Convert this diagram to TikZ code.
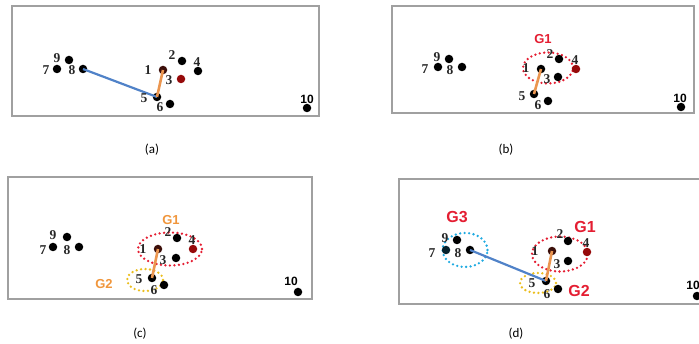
\documentclass[tikz,border=0pt]{standalone}
\usepackage{fontspec}
\setmainfont{Liberation Serif}
\setsansfont{Liberation Sans}
\newfontfamily\capfont{Carlito}
\usetikzlibrary{shapes.geometric}
\definecolor{frameg}{RGB}{160,160,160}
\definecolor{lblue}{RGB}{80,130,200}
\definecolor{lorange}{RGB}{235,150,80}
\definecolor{gred}{RGB}{228,30,50}
\definecolor{gyellow}{RGB}{235,190,30}
\definecolor{gcyan}{RGB}{30,170,225}
\definecolor{gorange}{RGB}{240,150,60}
\definecolor{dbrown}{RGB}{60,15,10}
\definecolor{dred}{RGB}{150,10,10}
\tikzset{
  panel/.style={draw=frameg, line width=1.8pt},
  dot/.style={circle, fill=black, inner sep=0pt, minimum size=8.5pt},
  num/.style={font=\fontsize{13.5}{13.5}\selectfont\bfseries, inner sep=0pt, text=black!85},
  tennum/.style={font=\sffamily\bfseries\fontsize{12}{12}\selectfont, inner sep=0pt},
  glabel/.style={font=\sffamily\bfseries\fontsize{13}{13}\selectfont, inner sep=0pt},
  bigglabel/.style={font=\sffamily\bfseries\fontsize{16}{16}\selectfont, inner sep=0pt},
  capt/.style={font=\capfont\fontsize{13}{13}\selectfont, inner sep=0pt},
  group/.style={draw, ellipse, line width=2.6pt, dash pattern=on 0pt off 4.5pt, line cap=round, inner sep=0pt},
  blueline/.style={draw=lblue, line width=2.2pt},
  orangeline/.style={draw=lorange, line width=2.6pt},
}
\begin{document}
\begin{tikzpicture}[x=1pt,y=-1pt]
\useasboundingbox (0,0) rectangle (699,344);
\begin{scope}
\clip (0,0) rectangle (699,344);
% ---------------- panel (a)
\draw[panel] (12,6) rectangle (319,116);
\node[dot] (a9) at (69,60) {};
\node[dot] (a7) at (57,69) {};
\node[dot] (a8) at (83,69) {};
\node[dot] (a2) at (182,61) {};
\node[dot] (a4) at (198,71) {};
\node[dot, fill=dbrown] (a1) at (163,70) {};
\node[dot, fill=dred] (a3) at (181,79) {};
\node[dot] (a5) at (157,97) {};
\node[dot] (a6) at (170,104) {};
\node[dot] (a10) at (307,108) {};
\draw[blueline] (a8.center) -- (a5.center);
\draw[orangeline] (a1.center) -- (a5.center);
\node[num] (la9) at (57,58) {9};
\node[num] (la7) at (46,70) {7};
\node[num] (la8) at (72,70) {8};
\node[num] (la2) at (172,55) {2};
\node[num] (la4) at (197,62) {4};
\node[num] (la1) at (148,70) {1};
\node[num] (la3) at (169,80) {3};
\node[num] (la5) at (144,98) {5};
\node[num] (la6) at (160,107) {6};
\node[tennum] (la10) at (307,99) {10};
\node[capt] (capa) at (152,150) {(a)};
% ---------------- panel (b)
\draw[panel] (392,6) rectangle (694,113);
\node[group, draw=gred, minimum width=50pt, minimum height=31pt] (bg1) at (548,68) {};
\node[dot] (b9) at (449,59) {};
\node[dot] (b7) at (438,67) {};
\node[dot] (b8) at (462,67) {};
\node[dot] (b2) at (559,59) {};
\node[dot, fill=dred] (b4) at (576,69) {};
\node[dot] (b1) at (541,69) {};
\node[dot] (b3) at (558,77) {};
\node[dot] (b5) at (534,94) {};
\node[dot] (b6) at (548,101) {};
\node[dot] (b10) at (681,107) {};
\draw[orangeline] (b1.center) -- (b5.center);
\node[num] (lb9) at (437,57) {9};
\node[num] (lb7) at (425,69) {7};
\node[num] (lb8) at (450,70) {8};
\node[num] (lb2) at (550,54) {2};
\node[num] (lb4) at (575,60) {4};
\node[num] (lb1) at (526,68) {1};
\node[num] (lb3) at (547,79) {3};
\node[num] (lb5) at (522,96) {5};
\node[num] (lb6) at (538,105) {6};
\node[tennum] (lb10) at (680,98) {10};
\node[glabel, text=gred] (lbg1) at (543,39) {G1};
\node[capt] (capb) at (506,150) {(b)};
% ---------------- panel (c)
\draw[panel] (8,177) rectangle (312,299);
\node[group, draw=gred, minimum width=64pt, minimum height=33pt] (cg1) at (170,249) {};
\node[group, draw=gyellow, minimum width=36pt, minimum height=22pt] (cg2) at (145,280) {};
\node[dot] (c9) at (67,237) {};
\node[dot] (c7) at (53,247) {};
\node[dot] (c8) at (79,247) {};
\node[dot] (c2) at (177,238) {};
\node[dot, fill=dred] (c4) at (193,249) {};
\node[dot, fill=dbrown] (c1) at (158,249) {};
\node[dot] (c3) at (176,258) {};
\node[dot] (c5) at (152,278) {};
\node[dot] (c6) at (164,285) {};
\node[dot] (c10) at (298,292) {};
\draw[orangeline] (c1.center) -- (c5.center);
\node[num] (lc9) at (53,235) {9};
\node[num] (lc7) at (43,250) {7};
\node[num] (lc8) at (67,250) {8};
\node[num] (lc2) at (168,232) {2};
\node[num] (lc4) at (192,240) {4};
\node[num] (lc1) at (143,249) {1};
\node[num] (lc3) at (163,260) {3};
\node[num] (lc5) at (139,279) {5};
\node[num] (lc6) at (154,290) {6};
\node[tennum] (lc10) at (291,281) {10};
\node[glabel, text=gorange] (lcg1) at (171,220) {G1};
\node[glabel, text=gorange] (lcg2) at (104,284) {G2};
\node[capt] (capc) at (140,334) {(c)};
% ---------------- panel (d)
\draw[panel] (399,179) rectangle (710,304);
\node[group, draw=gcyan, minimum width=45pt, minimum height=34pt] (dg3) at (465,250) {};
\node[group, draw=gred, minimum width=56pt, minimum height=35pt] (dg1) at (560,254) {};
\node[group, draw=gyellow, minimum width=36pt, minimum height=20pt] (dg2) at (538,283) {};
\node[dot] (d9) at (457,240) {};
\node[dot, fill=black!80!gcyan] (d7) at (446,250) {};
\node[dot] (d8) at (470,250) {};
\node[dot] (d2) at (568,241) {};
\node[dot, fill=dred] (d4) at (587,252) {};
\node[dot, fill=dbrown] (d1) at (552,251) {};
\node[dot] (d3) at (568,261) {};
\node[dot] (d5) at (546,281) {};
\node[dot] (d6) at (558,289) {};
\node[dot] (d10) at (697,296) {};
\draw[blueline] (d8.center) -- (d5.center);
\draw[orangeline] (d1.center) -- (d5.center);
\node[num] (ld9) at (445,238) {9};
\node[num] (ld7) at (432,253) {7};
\node[num] (ld8) at (458,253) {8};
\node[num] (ld2) at (560,234) {2};
\node[num] (ld4) at (586,243) {4};
\node[num] (ld1) at (535,251) {1};
\node[num] (ld3) at (557,264) {3};
\node[num] (ld5) at (532,283) {5};
\node[num] (ld6) at (547,294) {6};
\node[tennum] (ld10) at (693,285) {10};
\node[bigglabel, text=gred] (ldg3) at (457,217) {G3};
\node[bigglabel, text=gred] (ldg1) at (585,227) {G1};
\node[bigglabel, text=gred] (ldg2) at (579,291) {G2};
\node[capt] (capd) at (516,334) {(d)};
\end{scope}
\end{tikzpicture}
\end{document}
